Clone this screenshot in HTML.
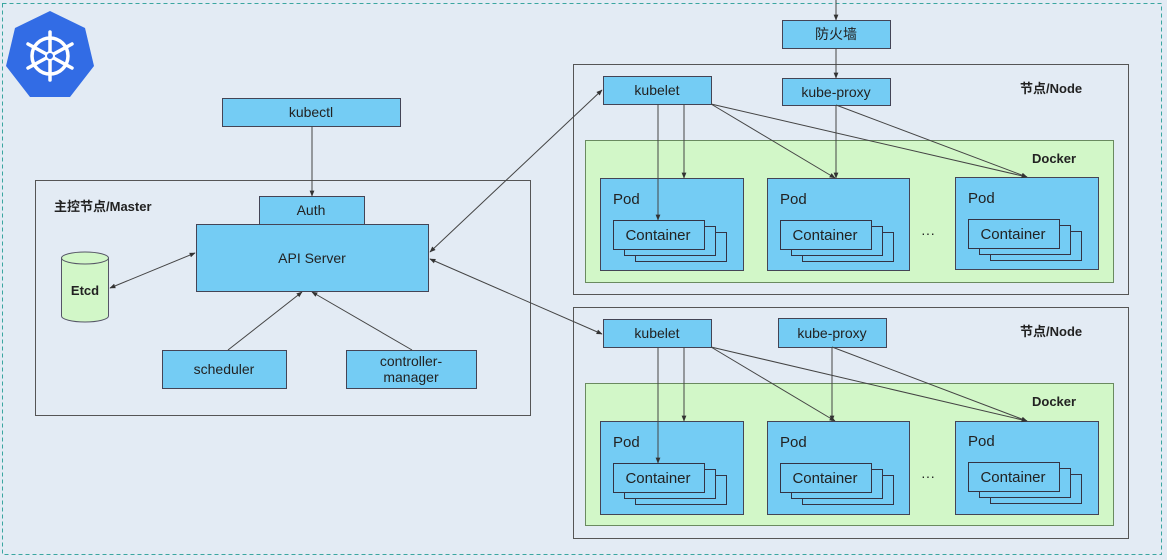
<!DOCTYPE html>
<html><head><meta charset="utf-8"><style>
html,body{margin:0;padding:0;background:#e3ebf4;}
svg{display:block;font-family:"Liberation Sans","Noto Sans CJK SC",sans-serif;}
</style></head><body>
<svg width="1167" height="560" viewBox="0 0 1167 560" xmlns="http://www.w3.org/2000/svg">
<defs>
<marker id="a" viewBox="0 0 10 10" refX="9" refY="5" markerWidth="6" markerHeight="6" orient="auto-start-reverse"><path d="M0,1 L10,5 L0,9 z" fill="#333"/></marker>
</defs>
<rect x="0" y="0" width="1167" height="560" fill="#e3ebf4"/>
<rect x="2.5" y="3.5" width="1159" height="551" fill="none" stroke="#3aa6a0" stroke-dasharray="4,3" stroke-width="1"/>
<!-- logo -->
<polygon points="50,11 85,28 94,66 70,97 30,97 6,66 15,28" fill="#326ce5"/>
<g stroke="#fff" stroke-width="3.5" fill="none" stroke-linecap="round">
<circle cx="50" cy="56" r="18"/>
<line x1="50" y1="32" x2="50" y2="80"/><line x1="28" y1="44" x2="72" y2="68"/><line x1="28" y1="68" x2="72" y2="44"/>
</g>
<circle cx="50" cy="56" r="4" fill="#326ce5" stroke="#fff" stroke-width="2"/>

<g stroke="#555" fill="none" stroke-width="1">
<rect x="35.5" y="180.5" width="495" height="235"/>
<rect x="573.5" y="64.5" width="555" height="230"/>
<rect x="573.5" y="307.5" width="555" height="231"/>
</g>
<g fill="#d2f7c8" stroke="#6a8a60" stroke-width="1">
<rect x="585.5" y="140.5" width="528" height="142"/>
<rect x="585.5" y="383.5" width="528" height="142"/>
</g>
<g fill="#74ccf4" stroke="#445" stroke-width="1">
<rect x="222.5" y="98.5" width="178" height="28"/>
<rect x="259.5" y="196.5" width="105" height="28"/>
<rect x="196.5" y="224.5" width="232" height="67"/>
<rect x="162.5" y="350.5" width="124" height="38"/>
<rect x="346.5" y="350.5" width="130" height="38"/>
<rect x="782.5" y="20.5" width="108" height="28"/>
<rect x="782.5" y="78.5" width="108" height="27"/>
<rect x="603.5" y="76.5" width="108" height="28"/>
<rect x="603.5" y="319.5" width="108" height="28"/>
<rect x="778.5" y="318.5" width="108" height="29"/>
<rect x="600.5" y="178.5" width="143" height="92"/>
<rect x="767.5" y="178.5" width="142" height="92"/>
<rect x="955.5" y="177.5" width="143" height="92"/>
<rect x="600.5" y="421.5" width="143" height="93"/>
<rect x="767.5" y="421.5" width="142" height="93"/>
<rect x="955.5" y="421.5" width="143" height="93"/>
</g>
<!-- containers -->
<g fill="#74ccf4" stroke="#334" stroke-width="1">
<g id="c1"><rect x="635.5" y="232.5" width="91" height="29"/><rect x="624.5" y="226.5" width="91" height="29"/><rect x="613.5" y="220.5" width="91" height="29"/></g>
<use href="#c1" x="167"/><use href="#c1" x="355" y="-1"/>
<use href="#c1" y="243"/><use href="#c1" x="167" y="243"/><use href="#c1" x="355" y="242"/>
</g>
<!-- cylinder -->
<g stroke="#556" stroke-width="1" fill="#d2f7c8">
<path d="M61.5,258 L61.5,316 A23.5,6 0 0 0 108.5,316 L108.5,258"/>
<ellipse cx="85" cy="258" rx="23.5" ry="6"/>
</g>
<!-- connectors -->
<g stroke="#444" stroke-width="1" fill="none" marker-end="url(#a)">
<line x1="312" y1="126" x2="312" y2="196"/>
<line x1="110" y1="288" x2="195" y2="253" marker-start="url(#a)"/>
<line x1="228" y1="350" x2="302" y2="292"/>
<line x1="412" y1="350" x2="312" y2="292"/>
<line x1="430" y1="252" x2="602" y2="90" marker-start="url(#a)"/>
<line x1="430" y1="259" x2="602" y2="334" marker-start="url(#a)"/>
<line x1="836" y1="0" x2="836" y2="20"/>
<line x1="836" y1="48" x2="836" y2="78"/>
<line x1="658" y1="104" x2="658" y2="220"/>
<line x1="684" y1="104" x2="684" y2="178"/>
<line x1="711" y1="104" x2="835" y2="178"/>
<line x1="711" y1="104" x2="1027" y2="177"/>
<line x1="836" y1="105" x2="836" y2="178"/>
<line x1="836" y1="105" x2="1027" y2="177"/>
<line x1="658" y1="347" x2="658" y2="463"/>
<line x1="684" y1="347" x2="684" y2="421"/>
<line x1="711" y1="347" x2="835" y2="421"/>
<line x1="711" y1="347" x2="1027" y2="421"/>
<line x1="832" y1="347" x2="832" y2="421"/>
<line x1="832" y1="347" x2="1027" y2="421"/>
</g>
<!-- text -->
<g fill="#222" font-size="14" text-anchor="middle">
<text x="311" y="117">kubectl</text>
<text x="311" y="215">Auth</text>
<text x="312" y="263">API Server</text>
<text x="224" y="374">scheduler</text>
<text x="411" y="366">controller-</text>
<text x="411" y="382">manager</text>
<text x="85" y="295" font-weight="bold" font-size="13">Etcd</text>
<text x="836" y="39">防火墙</text>
<text x="836" y="97">kube-proxy</text>
<text x="657" y="95">kubelet</text>
<text x="657" y="338">kubelet</text>
<text x="832" y="338">kube-proxy</text>
<text x="928" y="238">···</text>
<text x="928" y="481">···</text>
</g>
<g fill="#222" font-size="15" text-anchor="middle">
<text x="658" y="240">Container</text><text x="825" y="240">Container</text><text x="1013" y="239">Container</text>
<text x="658" y="483">Container</text><text x="825" y="483">Container</text><text x="1013" y="482">Container</text>
</g>
<g fill="#222" font-size="15">
<text x="613" y="204">Pod</text><text x="780" y="204">Pod</text><text x="968" y="203">Pod</text>
<text x="613" y="447">Pod</text><text x="780" y="447">Pod</text><text x="968" y="446">Pod</text>
</g>
<g fill="#222" font-size="13" font-weight="bold">
<text x="54" y="211">主控节点/Master</text>
<text x="1020" y="93">节点/Node</text>
<text x="1020" y="336">节点/Node</text>
<text x="1032" y="163">Docker</text>
<text x="1032" y="406">Docker</text>
</g>
</svg>
</body></html>
